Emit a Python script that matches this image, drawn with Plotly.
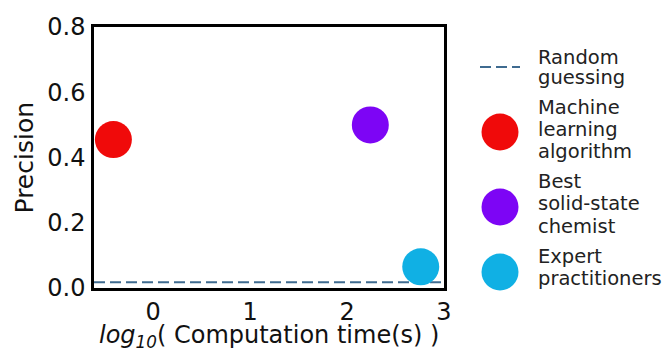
import plotly.graph_objects as go

# ---- data ----
methods = ["Machine learning algorithm", "Best solid-state chemist", "Expert practitioners"]
legend_lines = [["Machine", "learning", "algorithm"], ["Best", "solid-state", "chemist"], ["Expert", "practitioners"]]
log_time = [-0.41, 2.24, 2.76]
precision = [0.455, 0.50, 0.065]
colors = ["#f00a0a", "#7d05f5", "#10b0e4"]
random_label = ["Random", "guessing"]
random_precision = 0.018
x_ticks = [0, 1, 2, 3]
y_ticks = [0.0, 0.2, 0.4, 0.6, 0.8]
XMIN, XMAX = -0.61, 3.0
YMIN, YMAX = 0.0, 0.8

W, H = 667, 349
FONT = "DejaVu Sans"
# plot box in pixels
L, R, T, B = 94, 444, 27, 288
DASH_COLOR = "#3f6b90"

fig = go.Figure()

# random guessing line
fig.add_trace(go.Scatter(x=[XMIN, XMAX], y=[random_precision, random_precision], mode="lines",
                         line=dict(color=DASH_COLOR, width=2, dash="11px,5px"),
                         showlegend=False, hoverinfo="skip"))
for m, xv, yv, c in zip(methods, log_time, precision, colors):
    fig.add_trace(go.Scatter(x=[xv], y=[yv], mode="markers", name=m,
                             marker=dict(size=37, color=c, line=dict(width=0)),
                             showlegend=False))

# ---- manual legend on a pixel-mapped helper axis ----
LEG_X0 = 470
fig.add_trace(go.Scatter(x=[480, 520], y=[67, 67], mode="lines", xaxis="x2", yaxis="y2",
                         line=dict(color=DASH_COLOR, width=2, dash="11px,5px"),
                         showlegend=False, hoverinfo="skip"))
marker_rows = [132, 207, 272]
for c, ym in zip(colors, marker_rows):
    fig.add_trace(go.Scatter(x=[500], y=[ym], mode="markers", xaxis="x2", yaxis="y2",
                             marker=dict(size=37, color=c), showlegend=False, hoverinfo="skip"))

text_rows = [[57, 77], [107, 129, 151], [181, 203, 226], [256, 278]]
all_lines = [random_label] + legend_lines
annotations = []
for lines, ys in zip(all_lines, text_rows):
    for t, yy in zip(lines, ys):
        annotations.append(dict(x=536, y=yy, xref="x2", yref="y2", text=t, showarrow=False,
                                xanchor="left", yanchor="middle",
                                font=dict(family=FONT, size=19.5, color="#222222")))

# axis titles
annotations.append(dict(x=(L + R) / 2 / W, y=1 - 336 / H, xref="paper", yref="paper",
                        text="<i>log</i><sub><i>10</i></sub>( Computation time(s) )",
                        showarrow=False, xanchor="center", yanchor="middle",
                        font=dict(family=FONT, size=24, color="#111111")))
annotations.append(dict(x=24 / W, y=1 - ((T + B) / 2) / H, xref="paper", yref="paper",
                        text="Precision", textangle=-90, showarrow=False,
                        xanchor="center", yanchor="middle",
                        font=dict(family=FONT, size=25, color="#111111")))

fig.update_layout(
    width=W, height=H,
    margin=dict(l=0, r=0, t=0, b=0),
    paper_bgcolor="white", plot_bgcolor="white",
    template="none",
    showlegend=False,
    font=dict(family=FONT, color="#111111"),
    xaxis=dict(domain=[L / W, R / W], range=[XMIN, XMAX], tickvals=x_ticks,
               showgrid=False, zeroline=False, showline=True, mirror=True,
               linecolor="black", linewidth=2.5, ticks="", ticklen=0, automargin=False,
               ticklabelstandoff=0, tickfont=dict(family=FONT, size=24, color="#111111")),
    yaxis=dict(domain=[1 - B / H, 1 - T / H], range=[YMIN, YMAX], tickvals=y_ticks,
               tickformat=".1f", showgrid=False, zeroline=False, showline=True, mirror=True,
               linecolor="black", linewidth=2.5, ticks="", ticklen=0, automargin=False,
               ticklabelstandoff=1, tickfont=dict(family=FONT, size=24, color="#111111")),
    xaxis2=dict(domain=[LEG_X0 / W, 1], range=[LEG_X0, W], visible=False, anchor="y2",
                fixedrange=True),
    yaxis2=dict(domain=[0, 1], range=[H, 0], visible=False, anchor="x2", fixedrange=True),
    annotations=annotations,
)

fig.write_html("out.html", config={"displayModeBar": False},
               post_script="document.body.style.margin='0';document.body.style.overflow='hidden';")
